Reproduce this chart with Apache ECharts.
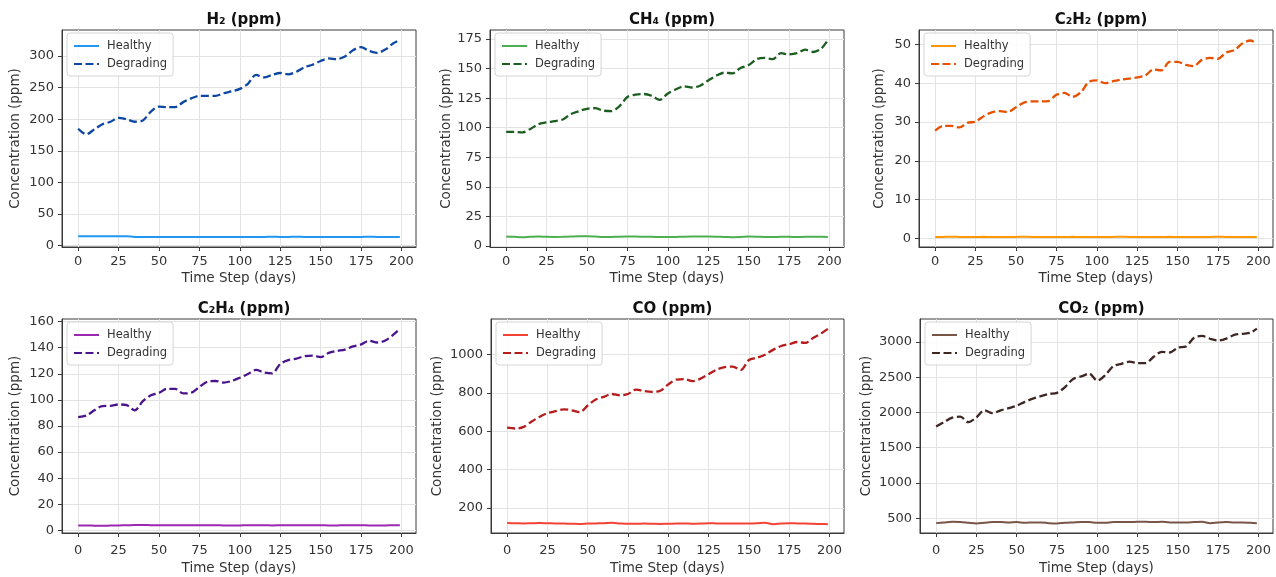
<!DOCTYPE html>
<html>
<head>
<meta charset="utf-8">
<title>Gas concentrations</title>
<script src="https://cdn.jsdelivr.net/npm/echarts@6/dist/echarts.min.js"></script>
<style>
  html, body { margin: 0; padding: 0; background: #fff; }
  #main { width: 1276px; height: 577px; }
</style>
</head>
<body>
<div id="main"></div>
<script>
// time steps (days)
var days = [0, 5, 10, 15, 20, 25, 30, 35, 40, 45, 50, 55, 60, 65, 70, 75, 80, 85, 90, 95,
            100, 105, 110, 115, 120, 125, 130, 135, 140, 145, 150, 155, 160, 165, 170, 175, 180, 185, 190, 195, 199];
var xTicks = [0, 25, 50, 75, 100, 125, 150, 175, 200];

// H2
var h2Healthy = [15, 15, 15, 15, 15, 15, 15, 14, 14, 14, 14, 14, 14, 14, 14, 14, 14, 14, 14, 13.8,
                 14, 14, 14, 14, 14.2, 14, 14, 14.2, 14, 14, 14, 14, 14, 14, 14, 14, 14.2, 14, 14, 14, 14];
var h2Degrading = [185, 176, 184, 192, 196, 202, 200, 196, 198, 212, 220, 219, 219, 227, 233, 237, 237, 237, 241, 244,
                   248, 256, 270, 266, 270, 273, 271, 275, 282, 286, 292, 296, 295, 299, 309, 314, 308, 305, 310, 320, 325];
var h2Ticks = [0, 50, 100, 150, 200, 250, 300];

// CH4
var ch4Healthy = [8, 7.8, 7.5, 7.8, 8, 7.8, 7.7, 7.8, 8, 8.2, 8.2, 8, 7.6, 7.7, 7.9, 8, 8, 7.9, 7.8, 7.7,
                  7.6, 7.7, 7.9, 8, 8, 8, 7.9, 7.7, 7.5, 7.7, 8, 7.9, 7.7, 7.7, 7.8, 7.8, 7.7, 7.8, 7.8, 7.8, 7.7];
var ch4Degrading = [96.5, 96.5, 96, 99, 103, 104.5, 105.5, 107, 111.5, 114, 116, 116.5, 114.5, 114, 118, 126, 128, 128.5, 127, 123.5,
                    129, 132.5, 135, 134, 135.5, 140, 144, 146.5, 146, 150.5, 153, 158, 159, 158, 163, 162, 163, 166, 164, 167, 174];
var ch4Ticks = [0, 25, 50, 75, 100, 125, 150, 175];

// C2H2
var c2h2Healthy = [0.4, 0.4, 0.42, 0.4, 0.38, 0.4, 0.41, 0.4, 0.4, 0.39, 0.4, 0.42, 0.4, 0.4, 0.38, 0.4, 0.4, 0.41, 0.4, 0.4,
                   0.39, 0.4, 0.4, 0.42, 0.4, 0.4, 0.38, 0.4, 0.4, 0.41, 0.4, 0.4, 0.39, 0.4, 0.4, 0.42, 0.4, 0.4, 0.4, 0.39, 0.4];
var c2h2Degrading = [27.8, 29, 29, 28.6, 29.8, 30.1, 31.5, 32.5, 32.8, 32.6, 33.8, 35, 35.3, 35.3, 35.4, 37, 37.5, 36.5, 37.6, 40.3,
                     40.7, 40, 40.5, 40.9, 41.2, 41.5, 42, 43.5, 43.3, 45.5, 45.5, 44.7, 44.4, 46, 46.5, 46.3, 47.9, 48.5, 50.2, 51, 50.2];
var c2h2Ticks = [0, 10, 20, 30, 40, 50];

// C2H4
var c2h4Healthy = [3.8, 3.8, 3.6, 3.5, 3.7, 3.8, 3.9, 4.1, 4.1, 4, 4, 3.9, 3.9, 4, 4, 3.9, 3.9, 3.9, 3.8, 3.8,
                   3.8, 3.9, 3.9, 3.9, 3.8, 3.9, 4, 4, 4, 3.9, 3.9, 3.8, 3.8, 3.9, 3.9, 3.9, 3.8, 3.8, 3.8, 3.9, 3.9];
var c2h4Degrading = [86.8, 88, 92, 95.3, 95.4, 96.5, 96, 92, 99, 103.5, 105.4, 108.5, 108.5, 105, 105.5, 110, 114, 114.5, 113.3, 114.5,
                     117, 119.8, 123, 121, 120.3, 127.6, 130.5, 131.7, 133.5, 134, 132.8, 136, 137.5, 138.5, 141, 142.5, 145.4, 144, 145.5, 150, 154.5];
var c2h4Ticks = [0, 20, 40, 60, 80, 100, 120, 140, 160];

// CO
var coHealthy = [122, 121, 120, 121, 122, 121, 120, 119, 118, 117, 119, 120, 121, 123, 120, 118, 118, 119, 118, 117,
                 118, 119, 120, 118, 119, 121, 120, 119, 119, 120, 120, 121, 123, 116, 119, 121, 120, 119, 118, 117, 116];
var coDegrading = [619, 615, 622, 650, 675, 695, 705, 715, 710, 700, 735, 766, 780, 795, 788, 795, 818, 810, 806, 812,
                   845, 870, 872, 862, 875, 898, 922, 935, 938, 920, 972, 984, 1000, 1025, 1045, 1055, 1066, 1061, 1088, 1112, 1135];
var coTicks = [200, 400, 600, 800, 1000];

// CO2
var co2Healthy = [430, 440, 450, 445, 435, 425, 435, 445, 445, 440, 445, 435, 440, 440, 430, 425, 435, 440, 445, 445,
                  435, 435, 445, 445, 445, 450, 450, 445, 450, 440, 440, 440, 445, 450, 430, 440, 445, 440, 440, 435, 430];
var co2Degrading = [1800, 1865, 1925, 1940, 1862, 1930, 2030, 1990, 2030, 2060, 2095, 2150, 2195, 2230, 2262, 2278, 2360, 2475, 2510, 2550,
                    2450, 2530, 2658, 2690, 2720, 2700, 2700, 2790, 2860, 2850, 2920, 2935, 3060, 3085, 3045, 3020, 3047, 3100, 3115, 3130, 3188];
var co2Ticks = [500, 1000, 1500, 2000, 2500, 3000];

// one entry per subplot: layout + colours
var panels = [
    {title: 'H\u2082 (ppm)', healthy: h2Healthy, degrading: h2Degrading, ticks: h2Ticks, yMin: -2, yMax: 341,
     c1: '#2196F3', c2: '#0D47A1', left: 62, top: 30, width: 354, height: 217, nameGap: 40, labMargin: 8, xNameGap: 24},
    {title: 'CH\u2084 (ppm)', healthy: ch4Healthy, degrading: ch4Degrading, ticks: ch4Ticks, yMin: -0.8, yMax: 182.6,
     c1: '#4CAF50', c2: '#1B5E20', left: 490, top: 30, width: 354, height: 217, nameGap: 37, labMargin: 8, xNameGap: 24},
    {title: 'C\u2082H\u2082 (ppm)', healthy: c2h2Healthy, degrading: c2h2Degrading, ticks: c2h2Ticks, yMin: -2.2, yMax: 53.7,
     c1: '#FF9800', c2: '#E65100', left: 919, top: 30, width: 354, height: 217, nameGap: 33, labMargin: 8, xNameGap: 24},
    {title: 'C\u2082H\u2084 (ppm)', healthy: c2h4Healthy, degrading: c2h4Degrading, ticks: c2h4Ticks, yMin: -2, yMax: 162,
     c1: '#9C27B0', c2: '#4A148C', left: 62, top: 319, width: 354, height: 214, nameGap: 40, labMargin: 11, xNameGap: 28},
    {title: 'CO (ppm)', healthy: coHealthy, degrading: coDegrading, ticks: coTicks, yMin: 70, yMax: 1186,
     c1: '#F44336', c2: '#B71C1C', left: 491, top: 319, width: 353, height: 214, nameGap: 47, labMargin: 11, xNameGap: 28},
    {title: 'CO\u2082 (ppm)', healthy: co2Healthy, degrading: co2Degrading, ticks: co2Ticks, yMin: 290, yMax: 3325,
     c1: '#795548', c2: '#3E2723', left: 920, top: 319, width: 353, height: 214, nameGap: 47, labMargin: 11, xNameGap: 28}
];

var txt = '#333';
var font = 'DejaVu Sans';

function pairs(vals) {
    return days.map(function (d, i) { return [d, vals[i]]; });
}

var option = {
    backgroundColor: '#fff',
    animation: false,
    textStyle: {fontFamily: font},
    title: [],
    legend: [],
    grid: [],
    xAxis: [],
    yAxis: [],
    series: []
};

panels.forEach(function (p, i) {
    option.grid.push({
        left: p.left, top: p.top, width: p.width, height: p.height,
        show: true, borderColor: '#3a3a3a', borderWidth: 1, backgroundColor: '#fff'
    });
    option.title.push({
        text: p.title,
        left: p.left + p.width / 2,
        top: p.top - 22,
        textAlign: 'center',
        textStyle: {fontFamily: font, fontSize: 15, fontWeight: 'bold', color: '#111'}
    });
    option.xAxis.push({
        type: 'value', gridIndex: i, min: -10, max: 209,
        name: 'Time Step (days)', nameLocation: 'middle', nameGap: p.xNameGap,
        nameTextStyle: {fontFamily: font, fontSize: 13.5, color: txt},
        axisLine: {show: true, onZero: false, lineStyle: {color: '#3a3a3a'}},
        axisTick: {show: true, customValues: xTicks, length: 4, lineStyle: {color: '#3a3a3a'}},
        axisLabel: {customValues: xTicks, margin: p.labMargin, fontSize: 13, color: txt, fontFamily: font},
        splitLine: {show: true, lineStyle: {color: '#e3e3e3'}}
    });
    option.yAxis.push({
        type: 'value', gridIndex: i, min: p.yMin, max: p.yMax,
        name: 'Concentration (ppm)', nameLocation: 'middle', nameGap: p.nameGap, nameRotate: 90,
        nameTextStyle: {fontFamily: font, fontSize: 13.5, color: txt},
        axisLine: {show: true, onZero: false, lineStyle: {color: '#3a3a3a'}},
        axisTick: {show: true, customValues: p.ticks, length: 4, lineStyle: {color: '#3a3a3a'}},
        axisLabel: {
            customValues: p.ticks, margin: 8, fontSize: 13, color: txt, fontFamily: font,
            formatter: function (v) { return String(v); }
        },
        splitLine: {show: true, lineStyle: {color: '#e3e3e3'}}
    });
    var n1 = 'Healthy|' + i, n2 = 'Degrading|' + i;
    option.series.push({
        name: n1, type: 'line', xAxisIndex: i, yAxisIndex: i,
        data: pairs(p.healthy), smooth: 0.3, symbol: 'none',
        lineStyle: {color: p.c1, width: 2}, itemStyle: {color: p.c1}
    });
    option.series.push({
        name: n2, type: 'line', xAxisIndex: i, yAxisIndex: i,
        data: pairs(p.degrading), smooth: 0.3, symbol: 'none',
        lineStyle: {color: p.c2, width: 2.3, type: [8, 3.5]}, itemStyle: {color: p.c2}
    });
    option.legend.push({
        data: [n1, n2],
        orient: 'vertical',
        left: p.left + 5, top: p.top + 3,
        itemWidth: 25, itemHeight: 10, itemGap: 6,
        padding: [7, 6, 6, 6],
        backgroundColor: 'rgba(255,255,255,0.85)',
        borderColor: '#d5d5d5', borderWidth: 1, borderRadius: 3,
        itemStyle: {opacity: 0},
        formatter: function (name) { return name.split('|')[0]; },
        textStyle: {fontFamily: font, fontSize: 11.5, color: txt, padding: [0, 0, 0, 3]}
    });
});

var myChart = echarts.init(document.getElementById('main'));
myChart.setOption(option);
</script>
</body>
</html>
